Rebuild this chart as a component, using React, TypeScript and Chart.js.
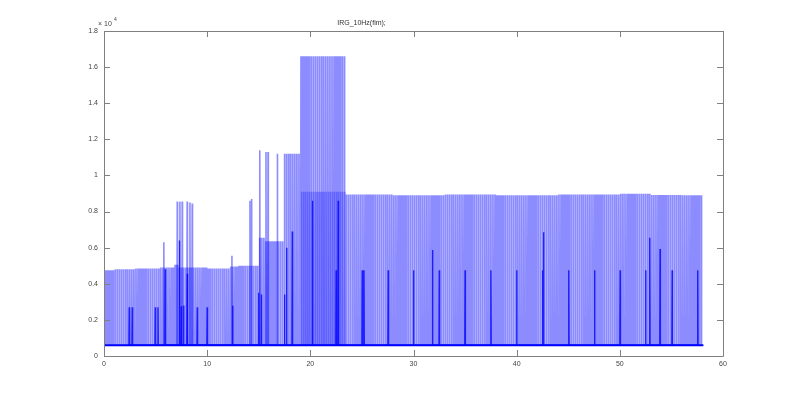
import React, { useEffect, useRef } from "react";
import { Chart, registerables, Plugin } from "chart.js";

Chart.register(...registerables);

// baseline level of the recording
const baseLevel = 600;
// regular pulse train: sample period (s) and last sample time
const pulsePeriod = 0.2;
const pulseEnd = 58.1;
// pulse-top levels: segment start time and level
const levelStarts = [0, 1, 3, 5.5, 6.8, 7.3, 10, 12.3, 13, 14.95, 15.6, 17.35, 19.05, 23.5, 28, 33, 38, 44, 50, 53, 56];
const levelValues = [4750, 4800, 4850, 4900, 5050, 4900, 4850, 4950, 5000, 6550, 6350, 11200, 16600, 8950, 8900, 8950, 8900, 8950, 8980, 8920, 8900];
// second, interleaved pulse train during the high phase
const midStarts = [19.15];
const midEnds = [23.45];
const midValues = [9100];
// single tall pulses
const tallTimes = [5.8, 7.1, 7.36, 7.58, 8.06, 8.33, 8.55, 12.4, 14.15, 14.3, 15.1, 15.7, 15.9, 16.8];
const tallHeights = [6300, 8550, 8550, 8550, 8550, 8500, 8450, 5550, 8600, 8700, 11400, 11300, 11300, 11200];
// dark (double) pulses
const darkTimes = [2.45, 2.74, 4.97, 5.23, 5.94, 7.3, 7.49, 7.72, 8.07, 9.04, 10.0, 12.47, 15.0, 15.25, 17.5, 17.7, 18.25, 20.2, 22.5, 22.7, 25.03, 25.2, 27.55, 30.0, 31.84, 32.5, 35.0, 37.5, 40.0, 42.5, 42.6, 45.05, 47.55, 50.03, 52.5, 52.9, 53.9, 55.07, 57.55];
const darkHeights = [2700, 2700, 2700, 2700, 4800, 6400, 2750, 2800, 4550, 2700, 2700, 2780, 3500, 3400, 3400, 6000, 6900, 8600, 4750, 8600, 4750, 4750, 4750, 4750, 5870, 4750, 4750, 4750, 4750, 4750, 6850, 4750, 4750, 4750, 4750, 6550, 5920, 4750, 4750];

const xTicks = [0, 10, 20, 30, 40, 50, 60];
const yTicks = [0, 2000, 4000, 6000, 8000, 10000, 12000, 14000, 16000, 18000];

const levelAt = (t: number) => {
  let v = levelValues[0];
  levelStarts.forEach((s, i) => {
    if (t >= s) v = levelValues[i];
  });
  return v;
};

const spikePoints = (times: number[], heights: number[]) => {
  const pts: { x: number; y: number }[] = [];
  times.forEach((t, i) => {
    pts.push({ x: t - 0.03, y: baseLevel }, { x: t, y: heights[i] }, { x: t + 0.03, y: baseLevel });
  });
  return pts;
};

const AxisBoxPlugin: Plugin = {
  id: "axisBox",
  afterDatasetsDraw(chart) {
    const { ctx, chartArea: a, scales } = chart;
    ctx.save();
    ctx.strokeStyle = "#808080";
    ctx.lineWidth = 1;
    ctx.beginPath();
    ctx.rect(Math.round(a.left) + 0.5, Math.round(a.top) + 0.5, Math.round(a.right - a.left), Math.round(a.bottom - a.top));
    ctx.stroke();
    ctx.beginPath();
    xTicks.forEach((v) => {
      const px = Math.round(scales.x.getPixelForValue(v)) + 0.5;
      ctx.moveTo(px, a.bottom);
      ctx.lineTo(px, a.bottom - 6);
      ctx.moveTo(px, a.top);
      ctx.lineTo(px, a.top + 6);
    });
    yTicks.forEach((v) => {
      const py = Math.round(scales.y.getPixelForValue(v)) + 0.5;
      ctx.moveTo(a.left, py);
      ctx.lineTo(a.left + 6, py);
      ctx.moveTo(a.right, py);
      ctx.lineTo(a.right - 6, py);
    });
    ctx.stroke();
    // exponent label
    ctx.fillStyle = "#444";
    ctx.font = "7px 'Liberation Sans', Arial, sans-serif";
    ctx.textBaseline = "alphabetic";
    ctx.textAlign = "left";
    ctx.fillText("\u00d7 10", a.left - 6, a.top - 5);
    ctx.font = "5px 'Liberation Sans', Arial, sans-serif";
    ctx.fillText("4", a.left + 10, a.top - 10);
    ctx.restore();
  },
};

const App: React.FC = () => {
  const canvasRef = useRef<HTMLCanvasElement | null>(null);
  const chartRef = useRef<Chart | null>(null);

  useEffect(() => {
    if (chartRef.current) chartRef.current.destroy();
    const ctx = canvasRef.current?.getContext("2d");
    if (!ctx) return;

    const pulseTimes: number[] = [];
    for (let t = pulsePeriod / 2; t < pulseEnd; t += pulsePeriod) pulseTimes.push(Number(t.toFixed(3)));
    const pulseHeights = pulseTimes.map(levelAt);

    const midTimes: number[] = [];
    const midHeights: number[] = [];
    midStarts.forEach((s, i) => {
      for (let t = s; t <= midEnds[i]; t += pulsePeriod) {
        midTimes.push(Number(t.toFixed(3)));
        midHeights.push(midValues[i]);
      }
    });

    const light = "rgba(0,0,255,0.45)";
    const common = { pointRadius: 0, tension: 0, borderJoinStyle: "miter" as const };

    chartRef.current = new Chart(ctx, {
      type: "line",
      data: {
        datasets: [
          {
            data: [{ x: 0, y: baseLevel }, { x: pulseEnd, y: baseLevel }],
            borderColor: "#0000ff",
            borderWidth: 2,
            ...common,
          },
          {
            data: spikePoints(darkTimes, darkHeights),
            borderColor: "rgba(0,0,255,0.8)",
            borderWidth: 1.4,
            ...common,
          },
          {
            data: spikePoints(tallTimes, tallHeights),
            borderColor: light,
            borderWidth: 1.6,
            ...common,
          },
          {
            data: spikePoints(midTimes, midHeights),
            borderColor: "rgba(0,0,255,0.3)",
            borderWidth: 1.6,
            ...common,
          },
          {
            data: spikePoints(pulseTimes, pulseHeights),
            borderColor: light,
            borderWidth: 1.8,
            ...common,
          },
        ],
      },
      options: {
        responsive: true,
        maintainAspectRatio: false,
        animation: false,
        parsing: false,
        layout: { padding: { top: 2, right: 77, left: 0, bottom: 0 } },
        plugins: {
          legend: { display: false },
          tooltip: { enabled: false },
          title: {
            display: true,
            text: "IRG_10Hz(fim);",
            color: "#333",
            font: { size: 7, family: "'Liberation Sans', Arial, sans-serif", weight: "normal", lineHeight: 1 },
            padding: { top: 18, bottom: 4 },
          },
        },
        scales: {
          x: {
            type: "linear",
            min: 0,
            max: 60,
            afterFit: (s) => {
              s.height = 44;
            },
            afterBuildTicks: (s) => {
              s.ticks = xTicks.map((v) => ({ value: v }));
            },
            grid: { display: false, drawTicks: false },
            border: { display: false },
            ticks: {
              color: "#444",
              padding: 4,
              maxRotation: 0,
              font: { size: 7, family: "'Liberation Sans', Arial, sans-serif" },
            },
          },
          y: {
            type: "linear",
            min: 0,
            max: 18000,
            afterFit: (s) => {
              s.width = 104;
            },
            afterBuildTicks: (s) => {
              s.ticks = yTicks.map((v) => ({ value: v }));
            },
            grid: { display: false, drawTicks: false },
            border: { display: false },
            ticks: {
              color: "#444",
              padding: 6,
              font: { size: 7, family: "'Liberation Sans', Arial, sans-serif" },
              callback: (v) => Number((Number(v) / 10000).toFixed(1)).toString(),
            },
          },
        },
      },
      plugins: [AxisBoxPlugin],
    });

    return () => {
      if (chartRef.current) chartRef.current.destroy();
      chartRef.current = null;
    };
  }, []);

  return (
    <div style={{ position: "absolute", left: 0, top: 0, width: 800, height: 400, background: "#fff" }}>
      <canvas ref={canvasRef}></canvas>
    </div>
  );
};

export default App;
